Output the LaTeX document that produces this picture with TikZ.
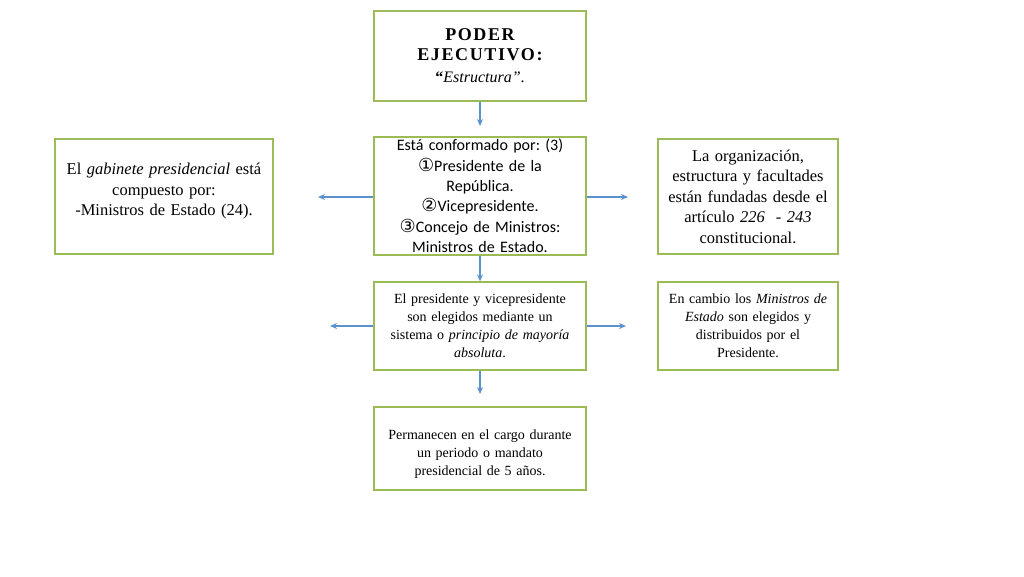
\documentclass[tikz,border=0pt]{standalone}
\usepackage{fontspec}
\setmainfont{Liberation Serif}
\newfontfamily\calib{Carlito}
\newfontfamily\djv{DejaVu Sans}
\usetikzlibrary{arrows.meta}
\definecolor{boxgreen}{RGB}{155,187,89}
\definecolor{arrblue}{RGB}{91,145,205}
\frenchspacing
\newcommand{\circnum}[1]{{\djv\fontsize{18}{20}\selectfont #1}}
\tikzset{
  box/.style={draw=boxgreen, line width=1.3pt, fill=white, align=center, inner sep=2pt,
    execute at begin node=\centering},
  bigtxt/.style={font=\fontsize{16.5}{20.5}\selectfont},
  smalltxt/.style={font=\fontsize{14}{18}\selectfont},
  conn/.style={draw=arrblue, line width=1.3pt, -{Stealth[length=7pt,width=6pt]}}
}
\begin{document}
\begin{tikzpicture}[x=1pt,y=-1pt]
\useasboundingbox (0,0) rectangle (1024,576);
\node[box, minimum width=212pt, minimum height=90pt, text width=205pt] (top) at (480,56)
  {{\fontsize{18}{20}\selectfont\bfseries\addfontfeature{LetterSpace=9}PODER\\EJECUTIVO:\par}
   {\fontsize{16}{22}\selectfont{\bfseries “}\textit{Estructura”}.\par}};
\node[box, minimum width=212pt, minimum height=114pt, text width=208pt, font=\calib\fontsize{16}{20.4}\selectfont] (mid) at (480,196)
  {Está conformado por: (3)\\
   \circnum{①}Presidente de la\\ República.\\
   \circnum{②}Vicepresidente.\\
   \circnum{③}Concejo de Ministros:\\ Ministros de Estado.};
\node[box, bigtxt, minimum width=218pt, minimum height=115pt, text width=212pt, text depth=55pt] (left) at (164,196.5)
  {El \textit{gabinete presidencial} está\\ compuesto por:\\ -Ministros de Estado (24).};
\node[box, bigtxt, minimum width=180pt, minimum height=115pt, text width=175pt] (right) at (748,196.5)
  {La organización,\\ estructura y facultades\\ están fundadas desde el\\ artículo \textit{226 \ - 243}\\ constitucional.};
\node[box, smalltxt, minimum width=212pt, minimum height=88pt, text width=205pt] (pres) at (480,326)
  {El presidente y vicepresidente\\ son elegidos mediante un\\ sistema o \textit{principio de mayoría}\\ \textit{absoluta}.};
\node[box, smalltxt, minimum width=180pt, minimum height=88pt, text width=176pt] (mins) at (748,326)
  {En cambio los \textit{Ministros de}\\ \textit{Estado} son elegidos y\\ distribuidos por el\\ Presidente.};
\node[box, smalltxt, minimum width=212pt, minimum height=83pt, text width=205pt, text height=20pt] (perm) at (480,448.5)
  {Permanecen en el cargo durante\\ un periodo o mandato\\ presidencial de 5 años.};
\coordinate (e1) at (480,126);
\coordinate (e2) at (318,197);
\coordinate (e3) at (628,197);
\coordinate (e4) at (330,326);
\coordinate (e5) at (626,326);
\coordinate (e6) at (480,394);
\draw[conn] (top.south) -- (e1);
\draw[conn] (mid.west |- e2) -- (e2);
\draw[conn] (mid.east |- e3) -- (e3);
\draw[conn] (mid.south) -- (pres.north);
\draw[conn] (pres.west) -- (e4);
\draw[conn] (pres.east) -- (e5);
\draw[conn] (pres.south) -- (e6);
\end{tikzpicture}
\end{document}
